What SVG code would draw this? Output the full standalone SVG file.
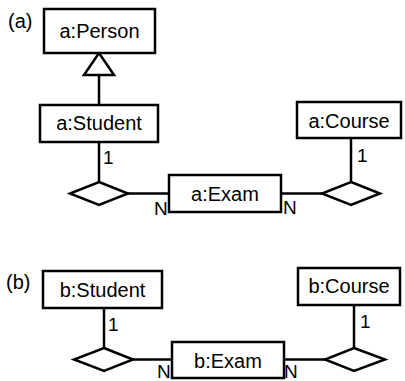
<svg xmlns="http://www.w3.org/2000/svg" width="405" height="381" viewBox="0 0 405 381">
<style>
.box{fill:#fff;stroke:#000;stroke-width:2.5}
.ln{fill:none;stroke:#000;stroke-width:2.5}
.dia{fill:#fff;stroke:#000;stroke-width:2.5;stroke-linejoin:miter}
text{font-family:"Liberation Sans",Arial,sans-serif;font-size:20px;fill:#000}
.c{text-anchor:middle}
.m{font-size:19px}
</style>
<rect width="405" height="381" fill="#fff"/>
<text x="8" y="28">(a)</text>
<text x="6" y="289">(b)</text>
<g id="connectors">
<line class="ln" x1="99" y1="75" x2="99" y2="105"/>
<polygon class="dia" points="99,53 84,75 114,75"/>
<line class="ln" x1="99" y1="142" x2="99" y2="182"/>
<line class="ln" x1="128" y1="193.5" x2="169" y2="193.5"/>
<line class="ln" x1="281" y1="193.5" x2="322" y2="193.5"/>
<line class="ln" x1="351" y1="138" x2="351" y2="182"/>
<text class="m" x="103" y="164">1</text>
<text class="m" x="154" y="215">N</text>
<text class="m" x="283" y="214">N</text>
<text class="m" x="357" y="162">1</text>
<line class="ln" x1="104" y1="308" x2="104" y2="348"/>
<line class="ln" x1="133" y1="359.5" x2="172" y2="359.5"/>
<line class="ln" x1="284" y1="359.5" x2="325" y2="359.5"/>
<line class="ln" x1="354" y1="305" x2="354" y2="348"/>
<text class="m" x="108" y="331">1</text>
<text class="m" x="157" y="378">N</text>
<text class="m" x="284" y="378">N</text>
<text class="m" x="360" y="328">1</text>
</g>
<g id="a-person"><rect class="box" x="44" y="9" width="111" height="44"/><text class="c" x="99.5" y="38">a:Person</text></g>
<g id="a-student"><rect class="box" x="40" y="105" width="118" height="37"/><text class="c" x="99" y="130">a:Student</text></g>
<g id="a-rel1"><polygon class="dia" points="99,182 128,193.5 99,205 70,193.5"/></g>
<g id="a-exam"><rect class="box" x="169" y="175" width="112" height="37"/><text class="c" x="225" y="201">a:Exam</text></g>
<g id="a-rel2"><polygon class="dia" points="351,182 380,193.5 351,205 322,193.5"/></g>
<g id="a-course"><rect class="box" x="297" y="102" width="104" height="36"/><text class="c" x="349" y="128">a:Course</text></g>
<g id="b-student"><rect class="box" x="43" y="271" width="119" height="37"/><text class="c" x="102.5" y="297">b:Student</text></g>
<g id="b-rel1"><polygon class="dia" points="104,348 133,359.5 104,371 74,359.5"/></g>
<g id="b-exam"><rect class="box" x="172" y="342" width="112" height="36"/><text class="c" x="228" y="368">b:Exam</text></g>
<g id="b-rel2"><polygon class="dia" points="354,348 385,359.5 354,371 325,359.5"/></g>
<g id="b-course"><rect class="box" x="298" y="268" width="102" height="37"/><text class="c" x="349" y="293">b:Course</text></g>
</svg>
